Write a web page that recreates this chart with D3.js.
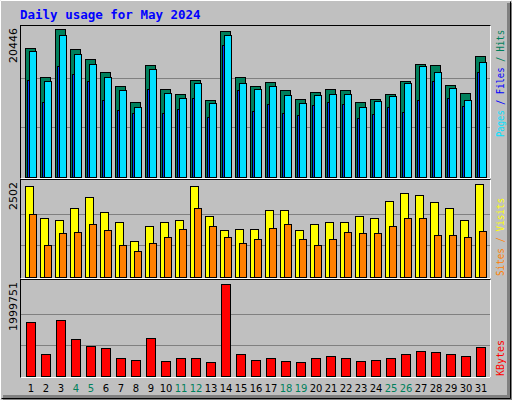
<!DOCTYPE html>
<html><head><meta charset="utf-8">
<script src="https://cdn.jsdelivr.net/npm/d3@7"></script>
<style>body{margin:0;background:#fff}svg{display:block}</style>
</head><body>
<script>
// values
var days = d3.range(1, 32);
var weekends = [4, 5, 11, 12, 18, 19, 25, 26];
var hits = [17810,13790,20446,17670,16280,14480,12540,10320,15450,12120,11430,13370,10600,20170,13790,12540,13090,12030,10740,11710,12120,11980,10320,10740,11430,13270,15590,15450,12680,11570,16700];
var files = [17390,13230,19610,16980,15590,13790,11980,9630,14900,11570,10870,12950,10180,19610,12950,12120,12540,11290,10180,11290,11430,11430,9630,10460,11150,12950,15310,14480,12260,10600,15870];
var pages = [13370,10320,15310,14200,13230,10600,9210,8790,12120,8790,9350,10870,8240,18230,11980,9070,10040,8790,8520,9900,10320,10040,8100,8650,9630,8930,10600,13230,10870,9760,14480];
var visits = [2383,1536,1483,1801,2092,1695,1456,927,1324,1456,1509,2383,1615,1218,1245,1245,1748,1748,1218,1403,1430,1430,1589,1536,1986,2198,2145,1960,1801,1483,2436];
var sites = [1668,821,1139,1165,1377,1218,821,688,900,1033,1245,1801,1350,1033,874,1006,1297,1403,980,821,980,1165,1139,1139,1324,1562,1562,1112,1112,1033,1192];
var kbytes = [1161000,451600,1204000,774100,623600,580600,365600,344000,795600,322500,387000,387000,301000,1956800,451600,344000,387000,322500,301000,387000,408600,387000,322500,344000,387000,451600,516100,494600,451600,408600,602100];
var maxHits = 20446, maxVisits = 2502, maxKbytes = 1999751;

var W = 512, H = 400;
var svg = d3.select("body").append("svg").attr("width", W).attr("height", H);
var mono = "DejaVu Sans Mono, monospace";

// background with 3d edge
svg.append("rect").attr("width", W).attr("height", H).attr("fill", "#c0c0c0");
svg.append("path").attr("d", "M0.5,399.5V0.5H511.5").attr("stroke", "#fff").attr("fill", "none");
svg.append("rect").attr("x", 507).attr("y", 3).attr("width", 5).attr("height", 397).attr("fill", "#808080");
svg.append("rect").attr("x", 3).attr("y", 395).attr("width", 509).attr("height", 5).attr("fill", "#808080");
svg.append("path").attr("d", "M1.5,398.5H510.5V1.5").attr("stroke", "#000").attr("fill", "none");

svg.append("text").attr("x", 20).attr("y", 19).attr("font-family", mono)
  .attr("font-size", 12.5).attr("font-weight", "bold").attr("fill", "#0000ff")
  .text("Daily usage for May 2024");

var x = d3.scaleLinear().domain([1, 31]).range([25, 475]);

function panel(top, bottom, plotH, max) {
  svg.append("rect").attr("x", 20.5).attr("y", top + 0.5).attr("width", 470).attr("height", bottom - top)
    .attr("fill", "#c0c0c0").attr("stroke", "#000");
  svg.append("path").attr("d", "M20.5," + (bottom + 0.5) + "H490.5V" + (top + 0.5))
    .attr("stroke", "#fff").attr("fill", "none");
  var y = d3.scaleLinear().domain([0, max]).range([bottom - 1.5, bottom - 1.5 - plotH]);
  [max / 3, max * 2 / 3].forEach(function(v) {
    svg.append("line").attr("x1", 21).attr("x2", 490).attr("y1", Math.round(y(v)) + 0.5)
      .attr("y2", Math.round(y(v)) + 0.5).attr("stroke", "#808080");
  });
  svg.append("text").attr("transform", "translate(17," + (top + 3) + ") rotate(-90)")
    .attr("text-anchor", "end").attr("font-family", "DejaVu Sans, sans-serif").attr("font-size", 11)
    .attr("fill", "#000").text(max);
  return y;
}

function bars(y, data, dx, w, color) {
  svg.append("g").selectAll("rect").data(data).join("rect")
    .attr("x", function(d, i) { return x(days[i]) + dx + 0.5; })
    .attr("y", function(d) { return Math.round(y(d)) + 0.5; })
    .attr("width", w)
    .attr("height", function(d) { return Math.round(y(0)) - Math.round(y(d)); })
    .attr("fill", color).attr("stroke", "#000");
}

var y1 = panel(25, 178, 147.4, maxHits);
bars(y1, hits, 0, 10, "#00805c");
bars(y1, files, 4, 7, "#00e0ff");
bars(y1, pages, 2, 2, "#0040ff");

var y2 = panel(179, 278, 94.5, maxVisits);
bars(y2, visits, 0, 8, "#ffff00");
bars(y2, sites, 4, 7, "#ff8000");

var y3 = panel(279, 377, 93, maxKbytes);
bars(y3, kbytes, 1, 9, "#ff0000");

// right side legends
function legend(yEnd, len, parts) {
  var t = svg.append("text").attr("transform", "translate(504," + yEnd + ") rotate(-90)")
    .attr("font-family", mono).attr("font-size", 11)
    .attr("textLength", len).attr("lengthAdjust", "spacingAndGlyphs");
  parts.forEach(function(p) { t.append("tspan").attr("fill", p[1]).text(p[0]); });
}
legend(137, 107, [["Pages", "#00e0ff"], [" / ", "#0000ff"], ["Files", "#0000ff"], [" / ", "#00805c"], ["Hits", "#00805c"]]);
legend(276, 78, [["Sites", "#ff8000"], [" / ", "#ff8000"], ["Visits", "#ffff00"]]);
legend(376, 36, [["KBytes", "#ff0000"]]);

// day labels
svg.append("g").selectAll("text").data(days).join("text")
  .attr("x", function(d) { return x(d) + 6; }).attr("y", 392)
  .attr("text-anchor", "middle").attr("font-family", "DejaVu Sans, sans-serif").attr("font-size", 10)
  .attr("fill", function(d) { return weekends.indexOf(d) >= 0 ? "#00805c" : "#000"; })
  .text(function(d) { return d; });
</script>
</body></html>
